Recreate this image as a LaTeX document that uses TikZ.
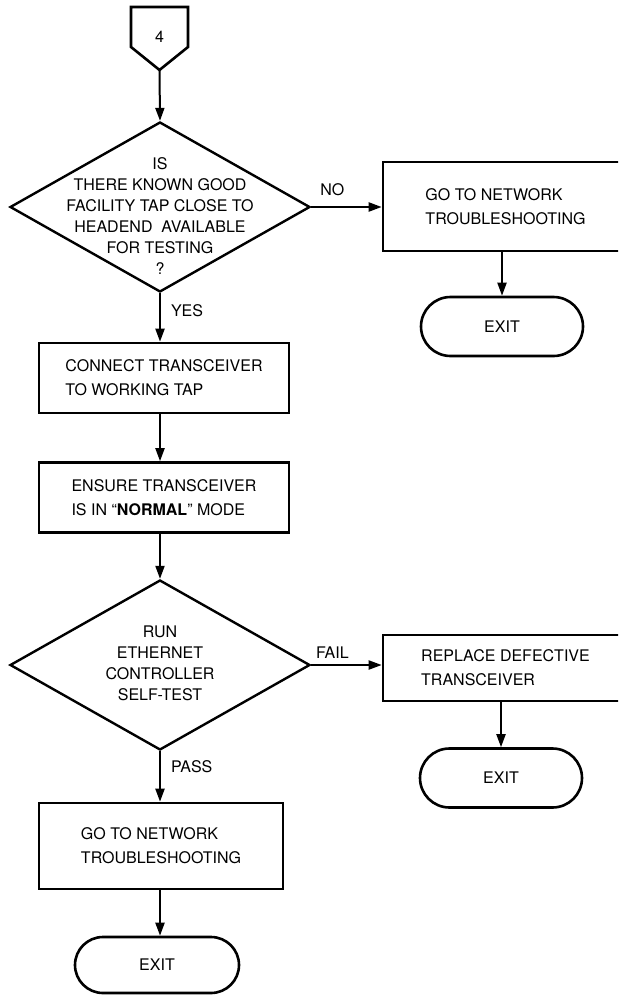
\documentclass[tikz,border=0pt]{standalone}
\usepackage{fontspec}
\setmainfont{TeX Gyre Heros}
\usetikzlibrary{arrows.meta,shapes.geometric,shapes.misc}
\tikzset{
  box/.style={
    draw=black,
    line width=2.6pt,
    minimum width=250pt,
    minimum height=70pt,
    align=left,
    inner sep=0pt,
    font=\fontsize{16}{24}\selectfont
  },
  decision/.style={draw=black, diamond, line width=2.4pt, minimum width=300pt, minimum height=170pt, inner sep=0pt},
  qtext/.style={align=center, inner sep=0pt, font=\fontsize{16}{21}\selectfont},
  terminal/.style={draw=black, rounded rectangle, line width=2.6pt, minimum width=162pt, minimum height=59pt, inner sep=0pt, font=\fontsize{16}{20}\selectfont},
  flow/.style={-{Triangle[length=13pt,width=9pt]}, line width=2pt},
  branch/.style={inner sep=0pt, font=\fontsize{16}{20}\selectfont}
}

\begin{document}
\begin{tikzpicture}[x=1pt, y=-1pt]
  \useasboundingbox (0,0) rectangle (618,995);
  \clip (0,0) rectangle (618,995);
  % off-page connector
  \draw[line width=2.6pt, line join=miter] (131,7) -- (188,7) -- (188,47) -- (159.5,70) -- (131,47) -- cycle;
  \node[branch] (start) at (159.5,37) {4};
  \coordinate (tip) at (159.5,70);

  \node[decision] (q1) at (160,207) {};
  \node[qtext] at (160,216) {IS\\THERE KNOWN GOOD\\FACILITY TAP CLOSE TO\\HEADEND\ \ AVAILABLE\\FOR TESTING\\?};
  \node[box, minimum width=245pt, minimum height=89pt] (b1) at (505.5,206.5) {GO TO NETWORK\\TROUBLESHOOTING};
  \node[terminal] (x1) at (502,326.5) {EXIT};
  \node[box] (b2) at (164,378) {CONNECT TRANSCEIVER\\TO WORKING TAP};
  \node[box] (b3) at (164,497.5) {ENSURE TRANSCEIVER\\IS IN ``\textbf{NORMAL}'' MODE};

  \node[decision] (q2) at (160,665) {};
  \node[qtext] at (160,663.5) {RUN\\ETHERNET\\CONTROLLER\\SELF-TEST};
  \node[box, minimum width=245pt, minimum height=66pt] (b4) at (505.5,668) {REPLACE DEFECTIVE\\TRANSCEIVER};
  \node[terminal] (x2) at (501,778) {EXIT};
  \node[box, minimum width=244pt, minimum height=86pt] (b5) at (161,846) {GO TO NETWORK\\TROUBLESHOOTING};
  \node[terminal, minimum width=164pt, minimum height=56pt] (x3) at (157,965) {EXIT};

  % connectors
  \draw[flow] (tip) -- (q1.north);
  \draw[flow] (q1.east) -- node[branch, pos=0.3, above=10pt] {NO} (q1.east -| b1.west);
  \draw[flow] (x1.north |- b1.south) -- (x1.north);
  \draw[flow] (q1.south) -- node[branch, right=10pt, pos=0.35] {YES} (q1.south |- b2.north);
  \draw[flow] (q1.south |- b2.south) -- (q1.south |- b3.north);
  \draw[flow] (q1.south |- b3.south) -- (q2.north);
  \draw[flow] (q2.east) -- node[branch, pos=0.3, above=6pt] {FAIL} (q2.east -| b4.west);
  \draw[flow] (x2.north |- b4.south) -- (x2.north);
  \draw[flow] (q2.south) -- node[branch, right=10pt, pos=0.3] {PASS} (q2.south |- b5.north);
  \draw[flow] (q2.south |- b5.south) -- (q2.south |- x3.north);
\end{tikzpicture}
\end{document}
